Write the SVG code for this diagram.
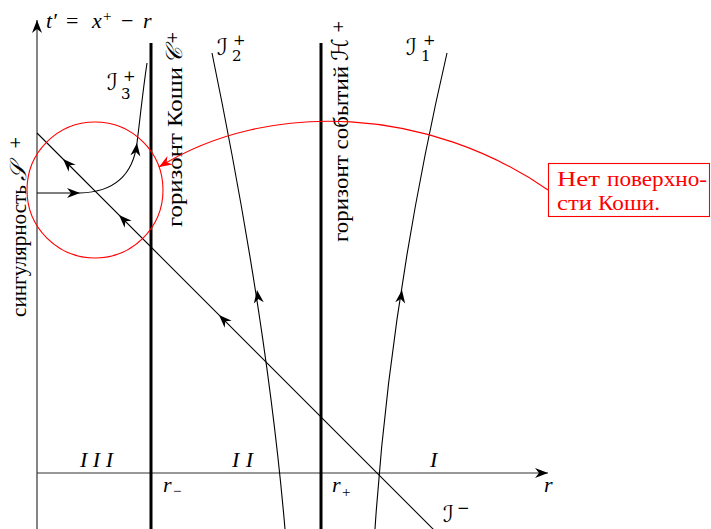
<svg xmlns="http://www.w3.org/2000/svg" xmlns:xlink="http://www.w3.org/1999/xlink" width="711" height="529" viewBox="0 0 711 529" font-family="'Liberation Serif', 'Times New Roman', Tinos, serif">
<style>
.thin{fill:none;stroke:#000;stroke-width:1.1}
.thick{fill:none;stroke:#000;stroke-width:3}
.axis{fill:none;stroke:#333;stroke-width:1.2}
.red{fill:none;stroke:#f00;stroke-width:1.1}
text{font-family:'Liberation Serif','Times New Roman',Tinos,serif;font-size:22px;fill:#000}
.it{font-style:italic}
.sm{font-size:15px;font-style:normal}
.math{font-family:'DejaVu Serif','DejaVu Sans','Noto Sans',serif;font-style:italic;font-size:23px}
.rt{fill:#f00}
</style>
<defs>
<path id="ah" d="M0,0 L-13,-5 L-9,0 L-13,5 Z"/>
<marker id="arr" markerUnits="userSpaceOnUse" viewBox="-14 -7 15 14" refX="0" refY="0" markerWidth="15" markerHeight="14" orient="auto"><path d="M0,0 L-13,-5 L-9,0 L-13,5 Z" fill="#000"/></marker>
<marker id="arrR" markerUnits="userSpaceOnUse" viewBox="-14 -7 15 14" refX="0" refY="0" markerWidth="15" markerHeight="14" orient="auto"><path d="M0,0 L-13,-5 L-9,0 L-13,5 Z" fill="#f00"/></marker>
</defs>

<g id="axes">
<line class="axis" x1="37" y1="529" x2="37" y2="20" marker-end="url(#arr)"/>
<line class="axis" x1="37" y1="473" x2="548" y2="473" marker-end="url(#arr)"/>
<text x="46" y="28"><tspan class="it">t′</tspan><tspan x="66">=</tspan><tspan class="it" x="92">x</tspan><tspan class="sm" x="103" y="21">+</tspan><tspan x="121" y="28">−</tspan><tspan class="it" x="143">r</tspan></text>
<text class="it" x="544" y="492">r</text>
</g>

<g id="singularity">
<text transform="translate(26,317) rotate(-90)" textLength="132" lengthAdjust="spacingAndGlyphs">сингулярность</text>
<text class="math" transform="translate(26,181) rotate(-90)">𝒮<tspan class="sm" x="32" y="-6">+</tspan></text>
</g>

<g id="cauchy-horizon">
<line class="thick" x1="151" y1="43" x2="151" y2="529"/>
<text transform="translate(182,227) rotate(-90)" textLength="160" lengthAdjust="spacingAndGlyphs">горизонт Коши</text>
<text class="math" transform="translate(182,64) rotate(-90)">𝒞<tspan class="sm" x="20" y="-5">+</tspan></text>
<text x="163" y="492"><tspan class="it">r</tspan><tspan class="sm" x="173" y="496">−</tspan></text>
</g>

<g id="event-horizon">
<line class="thick" x1="321" y1="43" x2="321" y2="529"/>
<text transform="translate(348,242) rotate(-90)" textLength="176" lengthAdjust="spacingAndGlyphs">горизонт событий</text>
<text class="math" transform="translate(348,61) rotate(-90)">ℋ<tspan class="sm" x="28" y="-5">+</tspan></text>
<text x="332" y="492"><tspan class="it">r</tspan><tspan class="sm" x="342" y="497">+</tspan></text>
</g>

<g id="regions">
<text class="it" x="80" y="467" font-size="24" textLength="33" lengthAdjust="spacing">III</text>
<text class="it" x="232" y="467" font-size="24" textLength="21" lengthAdjust="spacing">II</text>
<text class="it" x="430" y="467" font-size="24">I</text>
</g>

<g id="I-minus">
<line class="thin" x1="37" y1="133" x2="434" y2="530"/>
<use xlink:href="#ah" href="#ah" transform="translate(63,159) rotate(-135)"/>
<use xlink:href="#ah" href="#ah" transform="translate(119,215) rotate(-135)"/>
<use xlink:href="#ah" href="#ah" transform="translate(219,315) rotate(-135)"/>
<text class="math" x="443" y="522">ℐ<tspan class="sm" x="457" y="513">−</tspan></text>
</g>

<g id="I3">
<path class="thin" d="M37,193 L80,193 C115,192 133,175 137,143 C141,110 143,90 147,63"/>
<use xlink:href="#ah" href="#ah" transform="translate(80,193)"/>
<use xlink:href="#ah" href="#ah" transform="translate(137,143) rotate(-83)"/>
<text class="math" x="107" y="90">ℐ<tspan class="sm" x="121" y="99">3</tspan><tspan class="sm" x="123" y="81">+</tspan></text>
</g>

<g id="I2">
<path class="thin" d="M212,53 Q267,320 285,529"/>
<use xlink:href="#ah" href="#ah" transform="translate(257,290) rotate(-98)"/>
<text class="math" x="217" y="55">ℐ<tspan class="sm" x="232" y="61">2</tspan><tspan class="sm" x="233" y="45">+</tspan></text>
</g>

<g id="I1">
<path class="thin" d="M447,53 Q390,300 375,529"/>
<use xlink:href="#ah" href="#ah" transform="translate(402,290) rotate(-82)"/>
<text class="math" x="406" y="55">ℐ<tspan class="sm" x="421" y="61">1</tspan><tspan class="sm" x="423" y="45">+</tspan></text>
</g>

<g id="region-circle">
<circle class="red" cx="95" cy="190" r="68"/>
</g>

<g id="note">
<rect x="548.5" y="163.5" width="161" height="53" fill="#fff" stroke="#f00" stroke-width="1.1"/>
<text class="rt" x="557" y="186" textLength="43" lengthAdjust="spacingAndGlyphs">Нет</text>
<text class="rt" x="607" y="186" textLength="100" lengthAdjust="spacingAndGlyphs">поверхно-</text>
<text class="rt" x="557" y="210" textLength="35" lengthAdjust="spacingAndGlyphs">сти</text>
<text class="rt" x="598" y="210" textLength="62" lengthAdjust="spacingAndGlyphs">Коши.</text>
</g>

<g id="connectors">
<path class="red" d="M548,190 C430,108 270,98 159,167" marker-end="url(#arrR)"/>
</g>
</svg>
